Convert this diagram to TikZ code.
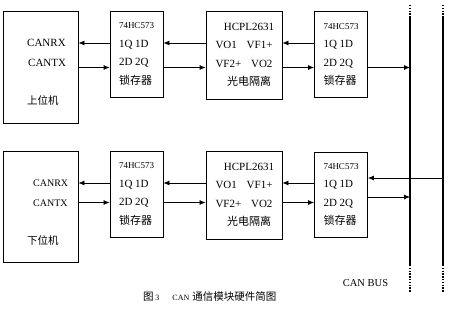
\documentclass[tikz,border=0pt]{standalone}
\usepackage{fontspec}
\setmainfont{Liberation Serif}
\newfontfamily\cjkfont{Noto Sans CJK SC}
\usetikzlibrary{positioning,arrows.meta,calc}

\begin{document}
\begin{tikzpicture}[
  x=1pt, y=-1pt,
  font=\fontsize{11}{18.5}\selectfont,
  every node/.style={align=center, inner sep=0pt},
  blk/.style  ={rectangle, draw=black, line width=0.8pt},
  host/.style ={blk, minimum width=75pt, minimum height=112pt},
  latch/.style={blk, minimum width=53pt, minimum height=86pt, align=left},
  opto/.style ={blk, minimum width=76pt, minimum height=88pt},
  lbl/.style  ={anchor=west},
  arrow/.style={-{Latex[length=6pt, width=5pt]}, line width=0.8pt},
  bus/.style  ={line width=2pt},
  busend/.style={line width=2pt, dash pattern=on 1.4pt off 1.4pt},
]
\useasboundingbox (0,0) rectangle (450,310);

% -------- upper row -------------------------------------------------------
\node[host]  (up1) at (40.5,67)   {};
\node[latch] (up2) at (136.5,54)  {{\fontsize{9}{18.5}\selectfont 74HC573}\\1Q 1D\\2D 2Q\\{\cjkfont 锁存器}};
\node[opto]  (up3) at (244,55)    {\makebox[57pt]{\hspace{10pt}HCPL2631}\\
                                   \makebox[57pt]{VO1\hfill VF1+}\\
                                   \makebox[57pt]{VF2+\hfill VO2}\\
                                   \makebox[57pt]{\hspace{10pt}\cjkfont 光电隔离}};
\node[latch] (up4) at (341,54.5)  {{\fontsize{9}{18.5}\selectfont 74HC573}\\1Q 1D\\2D 2Q\\{\cjkfont 锁存器}};

\node[lbl] (uprx) at (27,43)  {CANRX};
\node[lbl] (uptx) at (28,63)  {CANTX};
\node[lbl, font=\cjkfont\fontsize{10.5}{12}\selectfont] (upname) at (27,100) {上位机};

% -------- lower row -------------------------------------------------------
\node[host, minimum height=111pt] (down1) at (40.5,206.5) {};
\node[latch] (down2) at (136.5,194) {{\fontsize{9}{18.5}\selectfont 74HC573}\\1Q 1D\\2D 2Q\\{\cjkfont 锁存器}};
\node[opto]  (down3) at (244,195)   {\makebox[57pt]{\hspace{10pt}HCPL2631}\\
                                     \makebox[57pt]{VO1\hfill VF1+}\\
                                     \makebox[57pt]{VF2+\hfill VO2}\\
                                     \makebox[57pt]{\hspace{10pt}\cjkfont 光电隔离}};
\node[latch, minimum height=85pt] (down4) at (341,194.5) {{\fontsize{9}{18.5}\selectfont 74HC573}\\1Q 1D\\2D 2Q\\{\cjkfont 锁存器}};

\node[lbl, font=\fontsize{10}{12}\selectfont] (downrx) at (33,183) {CANRX};
\node[lbl, font=\fontsize{10}{12}\selectfont] (downtx) at (33,203) {CANTX};
\node[lbl, font=\cjkfont\fontsize{10.5}{12}\selectfont] (downname) at (27,240) {下位机};

% -------- bus -------------------------------------------------------------
\coordinate (b1top) at (410,5);   \coordinate (b1up) at (410,18);
\coordinate (b1lo)  at (410,265); \coordinate (b1bot) at (410,292);
\coordinate (b2top) at (443,5);   \coordinate (b2up) at (443,18);
\coordinate (b2lo)  at (443,265); \coordinate (b2bot) at (443,292);

\draw[bus] (b1up) -- (b1lo);
\draw[bus] (b2up) -- (b2lo);
\draw[busend] (b1top) -- (b1up);
\draw[busend] (b1lo) -- (b1bot);
\draw[busend] (b2top) -- (b2up);
\draw[busend] (b2lo) -- (b2bot);

% -------- arrows ----------------------------------------------------------
\coordinate (ra) at (0,43);    \coordinate (rb) at (0,67.5);
\coordinate (rc) at (0,183);   \coordinate (rd) at (0,202.5);
\coordinate (re) at (0,178);   \coordinate (rf) at (0,197);

\foreach \a/\b/\r/\s in {up1/up2/ra/rb, up2/up3/ra/rb, up3/up4/ra/rb,
                         down1/down2/rc/rd, down2/down3/rc/rd, down3/down4/rc/rd}
{
  \draw[arrow] (\b.west |- \r) -- (\a.east |- \r);
  \draw[arrow] (\a.east |- \s) -- (\b.west |- \s);
}

\draw[arrow] (up4.east |- rb) -- (b1up |- rb);
\draw[arrow] (b2up |- re) -- (down4.east |- re);
\draw[arrow] (down4.east |- rf) -- (b1up |- rf);

% -------- labels ----------------------------------------------------------
\node[font=\fontsize{10.5}{12}\selectfont] (buslbl) at (365.5,283) {CAN BUS};
\node[lbl, font=\fontsize{10.5}{12}\selectfont] (caption) at (143,297)
  {{\cjkfont 图}\,{\fontsize{8}{10}\selectfont 3}\hspace{13pt}{\fontsize{8}{10}\selectfont CAN}\hspace{3pt}{\cjkfont 通信模块硬件简图}};

\end{tikzpicture}
\end{document}
